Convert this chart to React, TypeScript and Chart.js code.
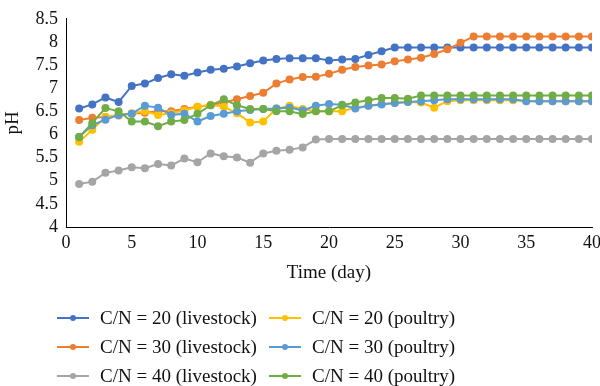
import React, { useEffect, useRef } from "react";
import { Chart, registerables } from "chart.js";

Chart.register(...registerables);

const days = [1, 2, 3, 4, 5, 6, 7, 8, 9, 10, 11, 12, 13, 14, 15, 16, 17, 18, 19, 20, 21, 22, 23, 24, 25, 26, 27, 28, 29, 30, 31, 32, 33, 34, 35, 36, 37, 38, 39, 40];

const livestock20 = [6.56, 6.65, 6.8, 6.7, 7.05, 7.1, 7.22, 7.3, 7.27, 7.34, 7.4, 7.42, 7.47, 7.54, 7.6, 7.63, 7.65, 7.65, 7.65, 7.6, 7.62, 7.63, 7.72, 7.8, 7.88, 7.88, 7.88, 7.88, 7.88, 7.88, 7.88, 7.88, 7.88, 7.88, 7.88, 7.88, 7.88, 7.88, 7.88, 7.88];
const livestock30 = [6.31, 6.36, 6.38, 6.41, 6.45, 6.47, 6.5, 6.5, 6.55, 6.6, 6.63, 6.69, 6.76, 6.83, 6.9, 7.1, 7.19, 7.24, 7.25, 7.31, 7.4, 7.46, 7.49, 7.51, 7.58, 7.62, 7.66, 7.74, 7.84, 7.98, 8.12, 8.12, 8.12, 8.12, 8.12, 8.12, 8.12, 8.12, 8.12, 8.12];
const livestock40 = [4.93, 4.98, 5.17, 5.22, 5.29, 5.27, 5.36, 5.33, 5.48, 5.4, 5.59, 5.53, 5.5, 5.39, 5.59, 5.65, 5.67, 5.72, 5.89, 5.9, 5.9, 5.9, 5.9, 5.9, 5.9, 5.9, 5.9, 5.9, 5.9, 5.9, 5.9, 5.9, 5.9, 5.9, 5.9, 5.9, 5.9, 5.9, 5.9, 5.9];
const poultry20 = [5.84, 6.1, 6.38, 6.42, 6.46, 6.5, 6.42, 6.46, 6.52, 6.6, 6.64, 6.6, 6.46, 6.26, 6.28, 6.56, 6.62, 6.55, 6.5, 6.5, 6.5, 6.58, 6.62, 6.66, 6.68, 6.7, 6.69, 6.58, 6.72, 6.74, 6.74, 6.74, 6.74, 6.74, 6.72, 6.72, 6.72, 6.72, 6.72, 6.72];
const poultry30 = [5.95, 6.2, 6.32, 6.42, 6.45, 6.62, 6.58, 6.42, 6.45, 6.28, 6.4, 6.45, 6.5, 6.53, 6.55, 6.56, 6.58, 6.52, 6.62, 6.66, 6.64, 6.56, 6.62, 6.65, 6.68, 6.7, 6.72, 6.74, 6.76, 6.76, 6.76, 6.76, 6.76, 6.76, 6.72, 6.72, 6.72, 6.72, 6.72, 6.72];
const poultry40 = [5.94, 6.25, 6.57, 6.5, 6.28, 6.28, 6.18, 6.28, 6.31, 6.45, 6.63, 6.76, 6.63, 6.55, 6.55, 6.5, 6.5, 6.44, 6.5, 6.5, 6.63, 6.69, 6.74, 6.79, 6.79, 6.77, 6.84, 6.84, 6.84, 6.84, 6.84, 6.84, 6.84, 6.84, 6.84, 6.84, 6.84, 6.84, 6.84, 6.84];

const yTickValues = [4, 4.5, 5, 5.5, 6, 6.5, 7, 7.5, 8, 8.5];
const xTickValues = [0, 5, 10, 15, 20, 25, 30, 35, 40];

const seriesLabels = [
  "C/N = 20 (livestock)",
  "C/N = 30 (livestock)",
  "C/N = 40 (livestock)",
  "C/N = 20 (poultry)",
  "C/N = 30 (poultry)",
  "C/N = 40 (poultry)",
];
const seriesValues = [livestock20, livestock30, livestock40, poultry20, poultry30, poultry40];
const seriesColors = ["#4472C4", "#ED7D31", "#A5A5A5", "#FFC000", "#5B9BD5", "#70AD47"];

const FONT = "'Liberation Serif', 'DejaVu Serif', serif";

const gridLegend = {
  id: "gridLegend",
  afterDraw(chart: any) {
    const ctx = chart.ctx;
    const ds = chart.data.datasets;
    const order = [0, 3, 1, 4, 2, 5];
    const colX = [57, 269];
    const rowY = [318, 347, 376];
    ctx.save();
    ctx.font = `19px ${FONT}`;
    ctx.textBaseline = "middle";
    ctx.textAlign = "left";
    order.forEach((di, k) => {
      const col = k % 2;
      const row = Math.floor(k / 2);
      const x = colX[col];
      const y = rowY[row];
      const c = ds[di].borderColor;
      ctx.strokeStyle = c;
      ctx.lineWidth = 2;
      ctx.beginPath();
      ctx.moveTo(x, y);
      ctx.lineTo(x + 32, y);
      ctx.stroke();
      ctx.fillStyle = c;
      ctx.beginPath();
      ctx.arc(x + 16, y, 3, 0, Math.PI * 2);
      ctx.fill();
      ctx.fillStyle = "#111";
      ctx.fillText(ds[di].label, x + 43, y + 1);
    });
    ctx.restore();
  },
};

export default function App() {
  const ref = useRef<HTMLCanvasElement | null>(null);
  useEffect(() => {
    if (!ref.current) return;
    const chart = new Chart(ref.current, {
      type: "line",
      data: {
        datasets: seriesValues.map((vals, i) => ({
          label: seriesLabels[i],
          data: days.map((d, j) => ({ x: d, y: vals[j] })),
          borderColor: seriesColors[i],
          backgroundColor: seriesColors[i],
          pointBackgroundColor: seriesColors[i],
          pointBorderColor: seriesColors[i],
          pointRadius: 4,
          pointBorderWidth: 0,
          borderWidth: 2,
          tension: 0,
          order: -i,
        })),
      },
      options: {
        animation: false,
        responsive: false,
        maintainAspectRatio: false,
        layout: { padding: { left: 0, right: 0, top: 9, bottom: 102 } },
        plugins: {
          legend: { display: false },
          tooltip: { enabled: false },
        },
        scales: {
          x: {
            type: "linear",
            min: 0,
            max: 40,
            grid: { display: false, drawTicks: false },
            border: { display: true, color: "#000", width: 1 },
            afterBuildTicks: (s: any) => { s.ticks = xTickValues.map((v) => ({ value: v })); },
            ticks: { autoSkip: false, color: "#111", font: { family: FONT, size: 18 }, padding: 5, maxRotation: 0 },
            title: { display: true, text: "Time (day)", color: "#111", font: { family: FONT, size: 19 }, padding: { top: 2, bottom: 0 } },
            afterFit: (s: any) => { s.height = 57; s.paddingRight = 8; s.paddingLeft = 0; },
          },
          y: {
            min: 4,
            max: 8.5,
            grid: { display: false, drawTicks: false },
            border: { display: true, color: "#000", width: 1 },
            afterBuildTicks: (s: any) => { s.ticks = yTickValues.map((v) => ({ value: v })); },
            ticks: {
              autoSkip: false,
              color: "#111",
              font: { family: FONT, size: 18 },
              padding: 8,
              callback: (v: any) => String(v),
            },
            title: { display: true, text: "pH", color: "#111", font: { family: FONT, size: 19 }, padding: 2 },
            afterFit: (s: any) => { s.width = 66; },
          },
        },
      },
      plugins: [gridLegend],
    });
    return () => chart.destroy();
  }, []);
  return (
    <div style={{ position: "absolute", left: 0, top: 0, width: 600, height: 386, background: "#fff" }}>
      <canvas ref={ref} width={600} height={386} style={{ width: 600, height: 386 }} />
    </div>
  );
}
